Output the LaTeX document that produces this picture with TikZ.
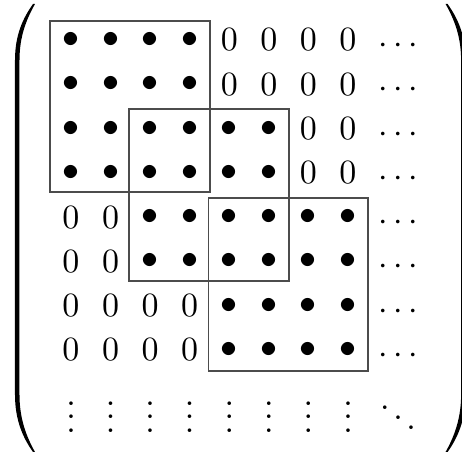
\documentclass[tikz,border=0pt]{standalone}
\begin{document}
\begin{tikzpicture}[x=0.2941pt,y=-0.2941pt,
  ent/.style={inner sep=0pt, anchor=center},
  entbase/.style={inner sep=0pt, anchor=base},
  blockbox/.style={draw=black!70, line width=0.5pt},
  paren/.style={fill=black}]
\useasboundingbox (0,0) rectangle (462,457);
% entries
\foreach \r in {1,...,8}{
  \foreach \c in {1,...,8}{
    \pgfmathtruncatemacro\p{ceil(\r/2)}
    \pgfmathtruncatemacro\lo{max(1,2*\p-3)}
    \pgfmathtruncatemacro\hi{min(8,2*\p+2)}
    \pgfmathtruncatemacro\isb{and(\c>=\lo,\c<=\hi)}
    \pgfmathsetmacro\xx{71+39.57*(\c-1)}
    \pgfmathsetmacro\yy{40+44.29*(\r-1)}
    \ifnum\isb=1
      \node[ent] (e-\r-\c) at (\xx,\yy) {$\bullet$};
    \else
      \node[ent] (e-\r-\c) at (\xx,\yy) {$0$};
    \fi
  }
  \pgfmathsetmacro\yb{40+44.29*(\r-1)+13.5}
  \node[entbase] (d-\r) at (398,\yb) {$\cdots$};
}
\foreach \c in {1,...,8}{
  \pgfmathsetmacro\xx{71+39.57*(\c-1)}
  \node[entbase] (v-\c) at (\xx,432.4) {$\vdots$};
}
\node[entbase] (dd) at (398,433.4) {$\ddots$};
% blocks
\draw[blockbox] (50,20.7) rectangle (210,192.3);
\draw[blockbox] (129.2,109.3) rectangle (289,281.3);
\draw[blockbox] (208.4,198.3) rectangle (367.8,370.7);
% parentheses
\fill[paren] (33,4) .. controls (23,18) and (15,35) .. (15,60) -- (15,395)
  .. controls (15,420) and (23,438) .. (33,452) -- (35,452)
  .. controls (26,436) and (19.5,418) .. (19.5,395) -- (19.5,60)
  .. controls (19.5,37) and (26,20) .. (35,4) -- cycle;
\begin{scope}[shift={(480.6,0)},xscale=-1]
\fill[paren] (33,4) .. controls (23,18) and (15,35) .. (15,60) -- (15,395)
  .. controls (15,420) and (23,438) .. (33,452) -- (35,452)
  .. controls (26,436) and (19.5,418) .. (19.5,395) -- (19.5,60)
  .. controls (19.5,37) and (26,20) .. (35,4) -- cycle;
\end{scope}
\end{tikzpicture}
\end{document}
